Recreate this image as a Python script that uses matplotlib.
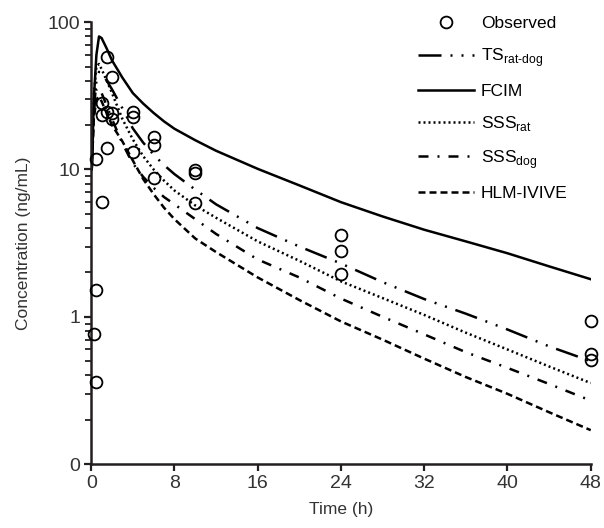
import matplotlib
matplotlib.use("Agg")
import matplotlib.pyplot as plt
from matplotlib.ticker import FixedLocator, LogLocator, NullFormatter

plt.rcParams["font.family"] = ["Liberation Sans", "DejaVu Sans"]
plt.rcParams["mathtext.fontset"] = "custom"
plt.rcParams["mathtext.rm"] = "Liberation Sans"

# observed data (time h, concentration ng/mL)
obs_t = [0.25, 0.5, 0.5, 0.5, 1, 1, 1, 1.5, 1.5, 1.5, 2, 2, 2,
         4, 4, 4, 6, 6, 6, 10, 10, 10, 24, 24, 24, 48, 48, 48]
obs_c = [0.77, 11.8, 1.52, 0.36, 28.1, 23.4, 6.05, 58, 24.6, 13.9, 42.6, 24.0, 22.0,
         24.6, 22.8, 13.2, 16.7, 14.7, 8.7, 9.9, 9.5, 5.9, 3.6, 2.8, 1.96, 0.93, 0.56, 0.51]

# simulated profiles
sim_t = [0.05, 0.25, 0.5, 0.75, 1, 1.5, 2, 3, 4, 5, 6, 7, 8, 10, 12, 16, 20, 24, 28, 32, 36, 40, 44, 48]
ts_ratdog = [10, 25, 40, 46, 45, 40, 35, 26, 19, 15.2, 12.6, 10.7, 9.3, 7.3, 5.8, 4.0, 3.0, 2.3, 1.72, 1.32, 1.05, 0.82, 0.63, 0.50]
fcim = [10, 30, 60, 80, 78, 66, 55, 42, 33, 28, 24.2, 21.2, 18.9, 15.8, 13.4, 10.1, 7.8, 6.0, 4.8, 3.9, 3.25, 2.7, 2.2, 1.8]
sss_rat = [10, 32, 50, 52, 48, 40, 33, 22, 16, 12.3, 10.0, 8.4, 7.2, 5.7, 4.7, 3.25, 2.4, 1.74, 1.34, 1.03, 0.78, 0.60, 0.46, 0.355]
sss_dog = [10, 25, 35, 36, 33, 27, 22, 15, 11, 8.9, 7.5, 6.5, 5.8, 4.6, 3.65, 2.45, 1.85, 1.33, 1.0, 0.76, 0.575, 0.45, 0.35, 0.27]
hlm_ivive = [10, 22, 30, 31, 29, 24, 20, 15.5, 11.5, 8.6, 6.8, 5.5, 4.6, 3.4, 2.75, 1.85, 1.3, 0.93, 0.70, 0.52, 0.39, 0.30, 0.225, 0.17]

x_ticks = [0, 8, 16, 24, 32, 40, 48]
y_ticks = [0.1, 1, 10, 100]
y_ticklabels = ["0", "1", "10", "100"]

fig = plt.figure(figsize=(6.04, 5.28), dpi=100)
ax = fig.add_axes([0.151, 0.121, 0.827, 0.837])

lw = 1.8
ax.plot(sim_t, ts_ratdog, color="black", lw=lw, linestyle=(0, (9.2, 3.6, 0.8, 3.6, 0.8, 3.6)),
        label=r"TS$_{\mathregular{rat\text{-}dog}}$")
ax.plot(sim_t, fcim, color="black", lw=lw, label="FCIM")
ax.plot(sim_t, sss_rat, color="black", lw=lw, linestyle=(0, (0.8, 1.2)),
        label=r"SSS$_{\mathregular{rat}}$")
ax.plot(sim_t, sss_dog, color="black", lw=lw, linestyle=(0, (4, 3.6, 0.8, 3.6)),
        label=r"SSS$_{\mathregular{dog}}$")
ax.plot(sim_t, hlm_ivive, color="black", lw=lw, linestyle=(0, (2.8, 1.6)),
        label="HLM-IVIVE")
ax.plot(obs_t, obs_c, "o", mfc="none", mec="black", mew=1.3, ms=8.5,
        clip_on=False, label="Observed", zorder=5)

ax.set_yscale("log")
ax.set_xlim(0, 48)
ax.set_ylim(0.1, 100)
ax.xaxis.set_major_locator(FixedLocator(x_ticks))
ax.yaxis.set_major_locator(FixedLocator(y_ticks))
ax.set_yticklabels(y_ticklabels)
ax.yaxis.set_minor_locator(LogLocator(base=10, subs=range(2, 10)))
ax.yaxis.set_minor_formatter(NullFormatter())

for side in ("top", "right"):
    ax.spines[side].set_visible(False)
for side in ("left", "bottom"):
    ax.spines[side].set_linewidth(1.8)
    ax.spines[side].set_color("#231f20")

ax.tick_params(axis="both", which="major", direction="out", length=5, width=1.6,
               colors="#231f20", labelsize=14, labelcolor="#333333", pad=3)
ax.tick_params(axis="y", which="minor", direction="out", length=4, width=1.3, colors="#231f20")

ax.set_xlabel("Time (h)", fontsize=12.5, color="#333333", labelpad=7)
ax.set_ylabel("Concentration (ng/mL)", fontsize=12.5, color="#333333", labelpad=12)

handles, labels = ax.get_legend_handles_labels()
order = [5, 0, 1, 2, 3, 4]
ax.legend([handles[i] for i in order], [labels[i] for i in order],
          loc="upper right", bbox_to_anchor=(0.985, 1.05), frameon=False,
          fontsize=12.5, handlelength=3.2, labelspacing=0.86, handletextpad=0.4)

fig.savefig("out.png", dpi=100)
